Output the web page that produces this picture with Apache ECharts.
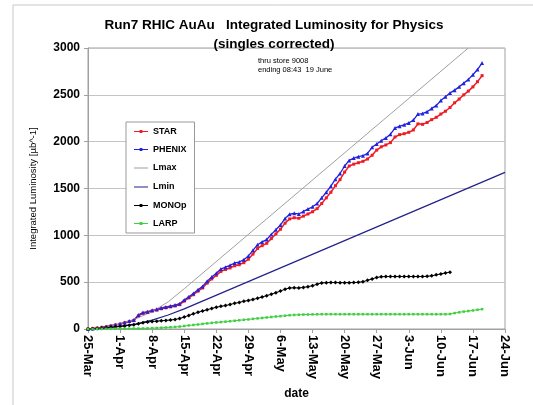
<!DOCTYPE html>
<html><head><meta charset="utf-8">
<script src="https://cdn.jsdelivr.net/npm/echarts@6/dist/echarts.min.js"></script>
<style>html,body{margin:0;padding:0;background:#fff}#c{width:533px;height:405px}</style>
</head><body><div id="c"></div>
<script>
const tickLabels = ['25-Mar','1-Apr','8-Apr','15-Apr','22-Apr','29-Apr','6-May','13-May','20-May','27-May','3-Jun','10-Jun','17-Jun','24-Jun'];
// daily values, index = days since 25-Mar
const star = [0,5,10,17,24,33,43,52,66,80,
90,140,168,178,192,202,216,226,236,246,
260,298,332,366,404,438,490,535,573,615,
635,652,675,686,708,745,800,860,890,915,
965,1015,1065,1130,1175,1188,1182,1205,1228,1252,
1285,1340,1400,1460,1530,1595,1675,1740,1760,1775,
1790,1815,1855,1910,1945,1965,1990,2050,2075,2085,
2100,2125,2190,2185,2205,2235,2260,2295,2325,2365,
2415,2455,2500,2540,2585,2640,2705];
const phenix = [0,5,10,18,25,35,45,55,70,85,
95,150,175,185,200,210,225,235,245,255,
270,310,345,380,420,455,510,555,595,640,
660,680,705,715,740,780,840,900,930,955,
1010,1060,1110,1180,1225,1235,1228,1255,1280,1305,
1340,1400,1460,1525,1600,1660,1740,1800,1825,1840,
1850,1875,1940,1975,2010,2040,2080,2145,2165,2180,
2200,2230,2295,2300,2320,2355,2385,2440,2480,2520,
2550,2585,2625,2665,2715,2770,2840];
const monop = [0,3,6,9,13,18,24,28,33,40,
46,55,68,75,80,84,88,92,96,102,
112,128,145,162,178,192,206,220,232,242,
250,262,274,284,296,305,315,328,342,356,
372,388,405,425,438,440,438,444,452,462,
478,492,495,496,496,495,495,495,496,498,
505,520,535,550,558,560,560,560,560,560,
560,560,560,560,562,568,578,588,598,607];
const larp = [0,0,1,1,2,2,3,3,4,4,
5,5,6,7,9,11,13,16,19,22,
26,32,38,43,48,54,60,65,70,74,
78,83,88,93,98,102,108,113,118,123,
128,133,137,142,147,150,152,154,155,156,
157,158,158,158,158,158,158,158,158,158,
158,158,158,158,158,158,158,158,158,158,
158,158,158,158,158,158,158,158,158,160,
170,178,186,192,198,205,212];
const lmaxDays = [0,3.5,7,10.5,14,17.5,21,83];
const lmaxVals = [0,15,55,110,185,290,430,3000];
const lminDays = [0,3.5,7,10.5,14,17.5,21,91];
const lminVals = [0,8,28,55,95,150,215,1672];

const F = 'Liberation Sans, Arial, sans-serif';
const daily = arr => arr.map((v,i)=>[i,v]);
const pairs = (d,v) => d.map((x,i)=>[x,v[i]]);
const ICON_M = 'path://M0,4.4h14v1.2h-14z M5.6,3.6h2.8v2.8h-2.8z';
const ICON_L = 'path://M0,4.4h14v1.2h-14z M0,0h0.01v0.01h-0.01z M0,9.99h0.01v0.01h-0.01z';

const chart = echarts.init(document.getElementById('c'));
chart.setOption({
  animation:false,
  backgroundColor:'#fff',
  textStyle:{fontFamily:F},
  title:{
    text:'Run7 RHIC AuAu   Integrated Luminosity for Physics\n(singles corrected)',
    left:269, top:11, textAlign:'center',
    textStyle:{fontFamily:F,fontSize:13.5,fontWeight:'bold',color:'#000',lineHeight:19}
  },
  graphic:[
    {type:'rect',shape:{x:13,y:5,width:540,height:420},style:{fill:'none',stroke:'#c8c8c8',lineWidth:1},silent:true},
    {type:'text',left:258,top:56,style:{text:'thru store 9008\nending 08:43  19 June',font:'7.5px '+F,fill:'#000',lineHeight:9}}
  ],
  legend:{
    orient:'vertical', left:126, top:122,
    padding:[5,8,5,8], itemGap:9, itemWidth:14, itemHeight:10,
    backgroundColor:'#fff', borderColor:'#999', borderWidth:1,
    textStyle:{fontFamily:F,fontSize:9,fontWeight:'bold',color:'#000'},
    data:[
      {name:'STAR',icon:ICON_M},{name:'PHENIX',icon:ICON_M},
      {name:'Lmax',icon:ICON_L},{name:'Lmin',icon:ICON_L},
      {name:'MONOp',icon:ICON_M},{name:'LARP',icon:ICON_M}
    ]
  },
  grid:{left:88, top:48, width:417, height:286, show:true, borderColor:'#a0a0a0', borderWidth:1, backgroundColor:'#fff'},
  xAxis:{
    type:'value', min:0, max:91, interval:7,
    name:'date', nameLocation:'middle', nameGap:59,
    nameTextStyle:{fontFamily:F,fontSize:12,fontWeight:'bold',color:'#000'},
    axisLine:{lineStyle:{color:'#a0a0a0'}},
    axisTick:{length:4,lineStyle:{color:'#a0a0a0'}},
    splitLine:{show:false},
    axisLabel:{rotate:-90, margin:6, fontFamily:F, fontSize:13, fontWeight:'bold', color:'#000',
      formatter:v=>tickLabels[Math.round(v/7)]}
  },
  yAxis:{
    type:'value', min:0, max:3000, interval:500,
    name:'Integrated Luminosity [µb^-1]', nameLocation:'middle', nameGap:50, nameRotate:90,
    nameTextStyle:{fontFamily:F,fontSize:9.5,color:'#000'},
    axisLine:{show:true,lineStyle:{color:'#a0a0a0'}},
    axisTick:{show:true,length:4,lineStyle:{color:'#a0a0a0'}},
    splitLine:{lineStyle:{color:'#c4c4c4'}},
    axisLabel:{margin:8, fontFamily:F, fontSize:12, fontWeight:'bold', color:'#000', formatter:v=>String(v)}
  },
  series:[
    {name:'STAR',type:'line',data:daily(star),color:'#ee1c24',symbol:'rect',symbolSize:3,showAllSymbol:true,lineStyle:{width:1.5}},
    {name:'PHENIX',type:'line',data:daily(phenix),color:'#2222dd',symbol:'triangle',symbolSize:4,showAllSymbol:true,lineStyle:{width:1.3}},
    {name:'Lmax',type:'line',data:pairs(lmaxDays,lmaxVals),color:'#a0a0a0',symbol:'none',lineStyle:{width:1}},
    {name:'Lmin',type:'line',data:pairs(lminDays,lminVals),color:'#22228a',symbol:'none',lineStyle:{width:1.2}},
    {name:'MONOp',type:'line',data:daily(monop),color:'#000',symbol:'diamond',symbolSize:4,showAllSymbol:true,lineStyle:{width:1}},
    {name:'LARP',type:'line',data:daily(larp),color:'#3fcf3f',symbol:'rect',symbolSize:2.5,showAllSymbol:true,lineStyle:{width:1}}
  ]
});
</script></body></html>
